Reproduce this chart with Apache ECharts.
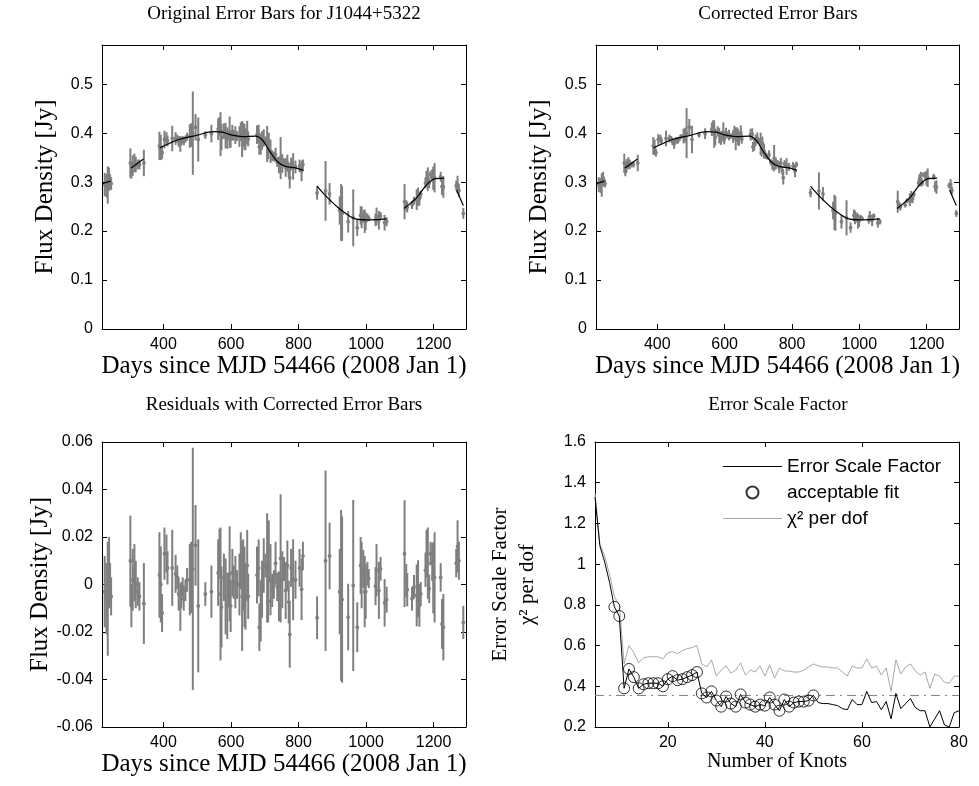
<!DOCTYPE html>
<html><head><meta charset="utf-8">
<script src="https://cdn.jsdelivr.net/npm/echarts@6/dist/echarts.min.js"></script>
<style>html,body{margin:0;padding:0;background:#fff}#c{width:979px;height:786px}</style>
</head><body><div id="c"></div>
<script>
// ---------- data ----------
const days = [226,231,235,239,242,245, 302,305,309,314,318,324,329,342,
 388,392,396,403,409,412,426,436,441,445,450,453,457,460,465,470,478,482,487,495,
 503,524,542,562,566,569,572,579,584,589,592,596,599,604,608,613,618,625,629,633,
 636,640,643,648,651, 677,682,684,688,692,697,702,707,710,712,717,722,727,732,737,
 742,747,752,757,762,767,771,774,778,784,791,803,809,813,
 855,880,892,922,926,929,947,962,974,984,987,992,996,999,1004,1008,1028,1031,1038,1043,1055,1061,
 1114,1119,1122,1136,1142,1150,1154,1158,1162,1176,1179,1183,1187,1191,1196,1199,1203,1221,1225,1229,
 1267,1271,1275,1288];
const flux = [0.295,0.293,0.294,0.306,0.302,0.297, 0.339,0.321,0.334,0.339,0.336,0.336,0.336,0.339,
 0.374,0.371,0.360,0.387,0.389,0.384,0.389,0.389,0.389,0.383,0.378,0.384,0.388,0.383,0.388,0.393,0.394,0.396,0.400,0.412,
 0.387,0.396,0.399,0.408,0.416,0.398,0.392,0.404,0.395,0.390,0.396,0.402,0.388,0.401,0.396,0.396,0.394,0.393,0.403,0.388,
 0.397,0.392,0.388,0.401,0.388, 0.397,0.398,0.372,0.377,0.385,0.390,0.385,0.378,0.361,0.380,0.363,0.354,0.352,0.356,0.341,
 0.335,0.349,0.338,0.340,0.330,0.339,0.324,0.309,0.337,0.332,0.331,0.333,0.323,0.336,
 0.278,0.282,0.276,0.242,0.238,0.236,0.219,0.227,0.207,0.232,0.228,0.230,0.220,0.220,0.228,0.226,0.223,0.230,0.222,0.231,0.217,0.219,
 0.260,0.252,0.249,0.253,0.262,0.264,0.270,0.266,0.275,0.298,0.307,0.306,0.298,0.315,0.313,0.308,0.309,0.311,0.291,0.290,
 0.293,0.295,0.283,0.236];
const origErr = [0.024,0.024,0.038,0.024,0.014,0.013, 0.030,0.014,0.021,0.019,0.016,0.010,0.010,0.027,
 0.029,0.026,0.013,0.018,0.013,0.011,0.026,0.013,0.008,0.011,0.016,0.008,0.006,0.008,0.007,0.008,0.024,0.024,0.085,0.027,
 0.045,0.008,0.018,0.022,0.017,0.045,0.027,0.016,0.026,0.022,0.011,0.032,0.018,0.016,0.011,0.018,0.010,0.021,0.019,0.037,
 0.024,0.027,0.022,0.024,0.015, 0.019,0.019,0.016,0.021,0.019,0.018,0.008,0.037,0.014,0.021,0.024,0.011,0.010,0.014,0.010,
 0.017,0.043,0.019,0.008,0.019,0.017,0.014,0.022,0.013,0.027,0.013,0.013,0.021,0.010,
 0.014,0.061,0.022,0.029,0.058,0.056,0.022,0.058,0.017,0.019,0.022,0.013,0.024,0.018,0.008,0.006,0.013,0.018,0.019,0.008,0.016,0.009,
 0.036,0.011,0.011,0.008,0.008,0.021,0.019,0.014,0.008,0.011,0.016,0.024,0.010,0.008,0.013,0.024,0.030,0.010,0.017,0.022,
 0.010,0.018,0.013,0.011];
const corrErr = [0.015,0.015,0.024,0.015,0.009,0.008, 0.019,0.009,0.013,0.012,0.010,0.006,0.006,0.017,
 0.018,0.016,0.008,0.011,0.008,0.007,0.016,0.008,0.005,0.007,0.010,0.005,0.004,0.005,0.0045,0.005,0.015,0.015,0.051,0.017,
 0.028,0.005,0.011,0.014,0.0105,0.028,0.017,0.010,0.016,0.014,0.007,0.020,0.011,0.010,0.007,0.011,0.006,0.013,0.012,0.023,
 0.015,0.017,0.014,0.015,0.0095, 0.012,0.012,0.010,0.013,0.012,0.0115,0.005,0.023,0.009,0.013,0.015,0.007,0.006,0.009,0.006,
 0.0105,0.027,0.012,0.005,0.012,0.0105,0.009,0.014,0.008,0.017,0.008,0.008,0.013,0.006,
 0.009,0.038,0.014,0.018,0.036,0.035,0.014,0.036,0.0105,0.012,0.014,0.008,0.015,0.0115,0.005,0.004,0.008,0.011,0.012,0.005,0.010,0.0055,
 0.0225,0.007,0.007,0.005,0.005,0.013,0.012,0.009,0.005,0.007,0.010,0.015,0.006,0.005,0.008,0.015,0.019,0.006,0.0105,0.014,
 0.006,0.011,0.008,0.007];
const resid = [-0.003,-0.006,-0.006,0.005,0.000,-0.005, 0.010,-0.009,0.002,0.005,0.000,-0.003,-0.005,-0.008,
 0.004,0.000,-0.012,0.013,0.013,0.007,0.007,0.0045,0.003,-0.004,-0.0095,-0.004,-0.001,-0.006,-0.0025,0.002,0.002,0.003,0.0066,0.0165,
 -0.009,-0.004,-0.003,0.005,0.013,-0.004,-0.0095,0.003,-0.005,-0.009,-0.0025,0.0045,-0.009,0.005,0.001,0.001,0.000,0.000,0.010,-0.005,
 0.004,-0.001,-0.005,0.008,-0.005, 0.004,0.007,-0.018,-0.011,-0.002,0.008,0.008,0.007,-0.007,0.014,0.002,-0.0025,0.000,0.009,-0.001,
 -0.005,0.011,0.002,0.0066,-0.0025,0.008,-0.0074,-0.021,0.007,0.002,0.002,0.007,-0.002,0.012,
 -0.014,0.010,0.012,-0.003,-0.0046,-0.0063,-0.0137,-0.0004,-0.018,0.008,0.004,0.0065,-0.003,-0.003,0.0045,0.0025,-0.0007,0.006,-0.0025,0.0066,-0.0077,-0.0064,
 0.013,0.0017,-0.0022,-0.006,-0.001,-0.0046,-0.0018,-0.0088,-0.004,0.006,0.013,0.009,-0.0018,0.013,0.0094,0.0028,0.003,0.003,-0.0166,-0.018,
 0.009,0.016,0.010,-0.016];
// spline fit, segments separated by null
const fitDays = [218,243,null,304,341,null,389,420,445,495,549,574,603,633,673,693,712,737,761,791,815,null,
 855,875,895,915,934,964,1003,1061,null,1112,1132,1152,1181,1206,1231,null,1268,1288];
const fitFlux = [0.297,0.302,null,0.329,0.347,null,0.370,0.380,0.387,0.395,0.403,0.402,0.396,0.393,0.394,0.386,0.366,0.342,0.332,0.329,0.324,null,
 0.292,0.276,0.262,0.249,0.239,0.226,0.223,0.225,null,0.246,0.257,0.270,0.296,0.307,0.308,null,0.284,0.252];
// knots panel
const knots = [5,6,7,8,9,10,11,12,13,14,15,16,17,18,19,20,21,22,23,24,25,26,27,28,29,30,31,32,33,34,35,36,37,38,39,40,
 41,42,43,44,45,46,47,48,49,50,51,52,53,54,55,56,57,58,59,60,61,62,63,64,65,66,67,68,69,70,71,72,73,74,75,76,77,78,79,80];
const scaleFactor = [1.33,1.09,1.01,0.91,0.79,0.745,0.39,0.485,0.445,0.39,0.41,0.415,0.415,0.415,0.40,0.435,0.45,0.43,0.435,0.445,
 0.455,0.47,0.365,0.345,0.375,0.33,0.30,0.35,0.315,0.30,0.36,0.32,0.31,0.30,0.31,0.305,0.345,0.31,0.28,0.335,
 0.30,0.32,0.325,0.325,0.33,0.355,0.32,0.315,0.315,0.31,0.305,0.29,0.285,0.335,0.31,0.31,0.375,0.32,0.325,0.285,
 0.325,0.24,0.365,0.29,0.315,0.34,0.295,0.28,0.28,0.20,0.24,0.28,0.21,0.20,0.27,0.28];
const chi2 = [1.35,1.10,1.04,0.95,0.84,0.80,0.51,0.60,0.565,0.515,0.54,0.545,0.545,0.545,0.535,0.565,0.57,0.56,0.575,0.585,
 0.59,0.60,0.51,0.495,0.53,0.45,0.48,0.50,0.465,0.48,0.515,0.455,0.48,0.47,0.50,0.45,0.505,0.44,0.49,0.475,
 0.475,0.47,0.47,0.48,0.495,0.51,0.50,0.495,0.495,0.49,0.49,0.47,0.45,0.50,0.49,0.49,0.535,0.49,0.50,0.455,
 0.49,0.375,0.53,0.46,0.495,0.51,0.475,0.455,0.47,0.39,0.46,0.45,0.42,0.415,0.45,0.45];
const acceptableKnots = [9,10,11,12,13,14,15,16,17,18,19,20,21,22,23,24,25,26,27,28,29,30,31,32,33,34,35,36,37,38,39,40,
 41,42,43,44,45,46,47,48,49,50];
const scaleRef = 0.355;
// tick labels
const fluxTicks = [0,0.1,0.2,0.3,0.4,0.5];
const dayTicks = [400,600,800,1000,1200];
const residTicks = [-0.06,-0.04,-0.02,0,0.02,0.04,0.06];
const knotTicks = [20,40,60,80];
const scaleTicks = [0.2,0.4,0.6,0.8,1,1.2,1.4,1.6];

// ---------- styling ----------
const SERIF = '"Liberation Serif","Times New Roman",serif';
const SANS = '"Liberation Sans",Arial,sans-serif';
const AX = {color:'#000', width:1};
const BAR = '#7f7f7f';
const plain = v => String(+v.toFixed(4));

function xPair(g, min, max, ticks, name, fs, gap){
  return [
    {type:'value', gridIndex:g, position:'bottom', min, max, splitLine:{show:false},
     axisLine:{onZero:false, lineStyle:AX},
     axisTick:{inside:true, length:5, lineStyle:AX, customValues:ticks},
     axisLabel:{customValues:ticks, formatter:plain, color:'#000', fontFamily:SANS, fontSize:16, margin:8},
     name, nameLocation:'middle', nameGap:gap,
     nameTextStyle:{fontFamily:SERIF, fontSize:fs, color:'#000'}},
    {type:'value', gridIndex:g, position:'top', min, max, splitLine:{show:false},
     axisLine:{onZero:false, lineStyle:AX},
     axisTick:{inside:true, length:5, lineStyle:AX, customValues:ticks},
     axisLabel:{show:false}}
  ];
}
function yPair(g, min, max, ticks, name, fs, gap, lh){
  return [
    {type:'value', gridIndex:g, position:'left', min, max, splitLine:{show:false},
     axisLine:{onZero:false, lineStyle:AX},
     axisTick:{inside:true, length:5, lineStyle:AX, customValues:ticks},
     axisLabel:{customValues:ticks, formatter:plain, color:'#000', fontFamily:SANS, fontSize:16, margin:9},
     name, nameLocation:'middle', nameGap:gap,
     nameTextStyle:{fontFamily:SERIF, fontSize:fs, color:'#000', lineHeight:lh||fs}},
    {type:'value', gridIndex:g, position:'right', min, max, splitLine:{show:false},
     axisLine:{onZero:false, lineStyle:AX},
     axisTick:{inside:true, length:5, lineStyle:AX, customValues:ticks},
     axisLabel:{show:false}}
  ];
}

function errSeries(xi, yi, vals, errs){
  return {
    type:'custom', xAxisIndex:xi, yAxisIndex:yi, clip:true, z:2, silent:true,
    data: days.map((d,i)=>[d, vals[i], errs[i]]),
    encode:{x:0, y:1},
    renderItem(params, api){
      const x = api.value(0), y = api.value(1), e = api.value(2);
      const a = api.coord([x, y-e]), b = api.coord([x, y+e]), c = api.coord([x, y]);
      return {type:'group', children:[
        {type:'line', shape:{x1:a[0], y1:a[1], x2:b[0], y2:b[1]}, style:{stroke:BAR, lineWidth:2}},
        {type:'circle', shape:{cx:c[0], cy:c[1], r:1.9}, style:{fill:BAR}}
      ]};
    }
  };
}
function fitSeries(xi, yi){
  const segs=[]; let cur=[];
  fitDays.forEach((d,i)=>{ if(d===null){ segs.push(cur); cur=[]; } else cur.push([d, fitFlux[i]]); });
  segs.push(cur);
  return segs.map(s=>({type:'line', xAxisIndex:xi, yAxisIndex:yi, data:s, smooth:0.35, symbol:'none',
    silent:true, z:5, lineStyle:{color:'#000', width:1.2}}));
}

const grids = [
  {left:102, top:45, width:364, height:284},
  {left:596, top:45, width:363, height:284},
  {left:102, top:442, width:364, height:285},
  {left:595, top:442, width:364, height:285}
];
const DAYS = 'Days since MJD 54466 (2008 Jan 1)';
const xAxes = [].concat(
  xPair(0, 218, 1296, dayTicks, DAYS, 25, 23),
  xPair(1, 218, 1296, dayTicks, DAYS, 25, 23),
  xPair(2, 218, 1296, dayTicks, DAYS, 25, 22),
  xPair(3, 5, 80, knotTicks, 'Number of Knots', 20, 25)
);
const yAxes = [].concat(
  yPair(0, 0, 0.58, fluxTicks, 'Flux Density [Jy]', 25, 44),
  yPair(1, 0, 0.58, fluxTicks, 'Flux Density [Jy]', 25, 44),
  yPair(2, -0.06, 0.06, residTicks, 'Flux Density [Jy]', 25, 44),
  yPair(3, 0.2, 1.6, scaleTicks, 'Error Scale Factor\nχ² per dof', 21, 54, 27)
);

const titleStyle = {fontFamily:SERIF, fontSize:19, fontWeight:'normal', color:'#000'};
const titles = [
  {text:'Original Error Bars for J1044+5322', left:284, top:5},
  {text:'Corrected Error Bars', left:778, top:5},
  {text:'Residuals with Corrected Error Bars', left:284, top:396},
  {text:'Error Scale Factor', left:778, top:396}
].map(t=>Object.assign(t, {textAlign:'center', padding:0, textStyle:titleStyle}));

const LINE_ICON = 'path://M0,0H59V1H0Z';
const series = [].concat(
  [errSeries(0, 0, flux, origErr)], fitSeries(0, 0),
  [errSeries(2, 2, flux, corrErr)], fitSeries(2, 2),
  [errSeries(4, 4, resid, corrErr)],
  [
    {type:'line', name:'χ² per dof', xAxisIndex:6, yAxisIndex:6, symbol:'none', z:3,
     data: knots.map((k,i)=>[k, chi2[i]]), lineStyle:{color:'#a8a8a8', width:1}, itemStyle:{color:'#a8a8a8'}},
    {type:'line', xAxisIndex:6, yAxisIndex:6, symbol:'none', z:3, silent:true,
     data:[[knots[0], scaleRef],[knots[knots.length-1], scaleRef]],
     lineStyle:{color:'#808080', width:1, type:[9,5,2,5]}},
    {type:'line', name:'Error Scale Factor', xAxisIndex:6, yAxisIndex:6, symbol:'none', z:4,
     data: knots.map((k,i)=>[k, scaleFactor[i]]), lineStyle:{color:'#000', width:1}, itemStyle:{color:'#000'}},
    {type:'scatter', name:'acceptable fit', xAxisIndex:6, yAxisIndex:6, symbol:'circle', symbolSize:11, z:5,
     data: acceptableKnots.map(k=>[k, scaleFactor[knots.indexOf(k)]]),
     itemStyle:{color:'rgba(255,255,255,0)', borderColor:'#000', borderWidth:1}}
  ]
);

const chart = echarts.init(document.getElementById('c'), null, {renderer:'canvas'});
chart.setOption({
  animation:false,
  backgroundColor:'#fff',
  title: titles,
  grid: grids,
  xAxis: xAxes,
  yAxis: yAxes,
  legend: {data:[{name:'Error Scale Factor', icon:LINE_ICON},
                 {name:'acceptable fit'},
                 {name:'χ² per dof', icon:LINE_ICON}],
    orient:'vertical', left:723, top:457, itemWidth:59, itemHeight:12, itemGap:7, padding:0,
    selectedMode:false, symbolKeepAspect:true,
    textStyle:{fontFamily:SANS, fontSize:19, color:'#000'}},
  series
});
</script></body></html>
